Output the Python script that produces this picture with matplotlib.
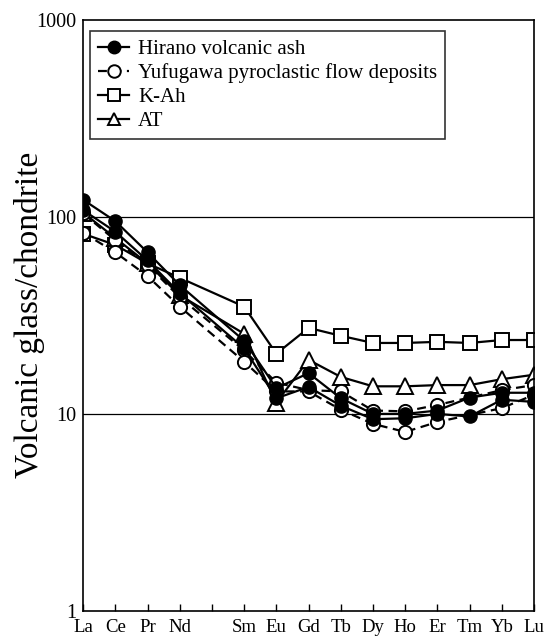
import numpy as np
import matplotlib
matplotlib.use("Agg")
import matplotlib.pyplot as plt

plt.rcParams["font.family"] = ["Liberation Serif", "DejaVu Serif"]

elements = ["La", "Ce", "Pr", "Nd", "", "Sm", "Eu", "Gd", "Tb", "Dy", "Ho", "Er", "Tm", "Yb", "Lu"]
nan = np.nan

# chondrite-normalised values (Pm column left empty)
hirano_1 = [122, 95, 66, 45, nan, 23.5, 13.5, 16.1, 12.0, 10.0, 10.0, 10.4, 12.1, 12.8, 12.8]
hirano_2 = [108, 84, 60, 41, nan, 21.5, 12.0, 13.7, 11.0, 9.4, 9.5, 10.0, 9.7, 11.8, 11.5]
yufu_1 = [104, 76, 57, 39, nan, 21.0, 14.4, 13.2, 13.0, 10.4, 10.3, 11.1, nan, 13.2, 14.0]
yufu_2 = [83, 66, 50, 35, nan, 18.4, 13.0, 13.0, 10.5, 8.9, 8.1, 9.1, nan, 10.7, 12.5]
k_ah = [82, 72, 58, 49, nan, 35, 20.2, 27.3, 24.9, 22.9, 22.9, 23.2, 22.9, 23.7, 23.7]
at = [105, 78, 58, 40, nan, 25.5, 11.4, 18.8, 15.4, 13.8, 13.8, 14.0, 14.0, 15.0, 15.8]

x = np.arange(len(elements))

fig = plt.figure(figsize=(5.54, 6.4), dpi=100)
ax = fig.add_axes([0.150, 0.0453, 0.814, 0.924])


def draw(vals, **kw):
    v = np.array(vals, dtype=float)
    ok = np.isfinite(v)
    return ax.plot(x[ok], v[ok], color="black", **kw)[0]


ax.axhline(10, color="black", lw=0.9, zorder=0)
ax.axhline(100, color="black", lw=0.9, zorder=0)

h_k = draw(k_ah, lw=1.6, marker="s", ms=10, mfc="white", mec="black", mew=1.4, label="K-Ah")
h_at = draw(at, lw=1.6, marker="^", ms=11, mfc="white", mec="black", mew=1.4, label="AT")
h_y = draw(yufu_1, lw=1.6, ls=(0, (4, 2.5)), marker="o", ms=9.5, mfc="white", mec="black", mew=1.4,
           label="Yufugawa pyroclastic flow deposits")
draw(yufu_2, lw=1.6, ls=(0, (4, 2.5)), marker="o", ms=9.5, mfc="white", mec="black", mew=1.4)
h_h = draw(hirano_1, lw=1.6, marker="o", ms=9.5, mfc="black", mec="black", label="Hirano volcanic ash")
draw(hirano_2, lw=1.6, marker="o", ms=9.5, mfc="black", mec="black")

ax.set_yscale("log")
ax.set_ylim(1, 1000)
ax.set_xlim(0, 14)
ax.set_yticks([1, 10, 100, 1000])
ax.set_yticklabels(["1", "10", "100", "1000"], fontsize=14.5)
ax.minorticks_off()
ax.tick_params(axis="y", length=0, pad=5)
ax.set_xticks(x)
ax.set_xticklabels(elements, fontsize=13.5)
ax.tick_params(axis="x", direction="in", length=5, width=1, pad=6)
for s in ax.spines.values():
    s.set_linewidth(1.2)

ax.set_ylabel("Volcanic glass/chondrite", fontsize=24)
ax.yaxis.set_label_coords(-0.085, 0.5)

leg = ax.legend(handles=[h_h, h_y, h_k, h_at], loc="upper left", bbox_to_anchor=(0.0155, 0.98),
                fontsize=15, frameon=True, fancybox=False, edgecolor="black",
                handlelength=1.45, handletextpad=0.45, borderpad=0.4, labelspacing=0.2,
                borderaxespad=0)
leg.get_frame().set_linewidth(1.2)
for ln in leg.get_lines():
    ln.set_markersize(9)

fig.savefig("out.png", dpi=100, facecolor="white")
